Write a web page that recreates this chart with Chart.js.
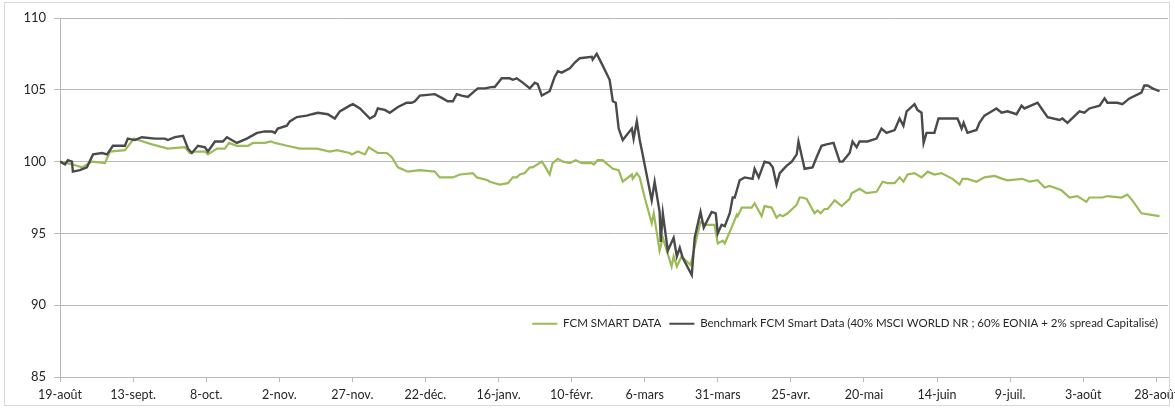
<!DOCTYPE html>
<html>
<head>
<meta charset="utf-8">
<script src="https://cdn.jsdelivr.net/npm/chart.js@4/dist/chart.umd.min.js"></script>
<style>
  html, body { margin: 0; padding: 0; background: #fff; }
  #wrap { position: relative; width: 1175px; height: 409px; }
  #frame { position: absolute; left: 4px; top: 2px; width: 1166px; height: 404px; border: 1px solid #d9d9d9; box-sizing: border-box; pointer-events: none; }
  canvas { position: absolute; left: 0; top: 0; }
</style>
</head>
<body>
<div id="wrap">
  <canvas id="c" width="1175" height="409"></canvas>
  <div id="frame"></div>
</div>
<script>
// x values: days since 19 August 2019
const tickDays = [0, 25, 50, 75, 100, 125, 150, 175, 200, 225, 250, 275, 300, 325, 350, 375];
const tickLabels = ['19-août', '13-sept.', '8-oct.', '2-nov.', '27-nov.', '22-déc.', '16-janv.', '10-févr.',
  '6-mars', '31-mars', '25-avr.', '20-mai', '14-juin', '9-juil.', '3-août', '28-août'];

const seriesNames = ['FCM SMART DATA', 'Benchmark FCM Smart Data (40% MSCI WORLD NR ; 60% EONIA + 2% spread Capitalisé)'];

const fundDays = [0, 4.4, 7.5, 10.9, 15.4, 17.1, 22.2, 25.3, 26.7, 31.5, 36.9, 42.7, 44.4, 46.2, 49.6, 50.6, 53.7, 56.4, 57.8, 60.5,
  64.3, 66.0, 70.1, 72.1, 73.5, 77.6, 82.1, 85.5, 87.9, 92.3, 94.7, 99.1, 99.8, 101.9, 104.3, 105.6, 108.7, 111.8, 113.5, 115.6,
  119.0, 123.1, 128.2, 129.9, 134.4, 136.8, 141.2, 142.6, 146.3, 147.0, 150.4, 153.2, 154.9, 156.2, 157.3, 159.0, 160.7, 161.7, 164.8, 165.8,
  167.5, 168.5, 170.3, 172.0, 174.4, 176.4, 178.5, 181.9, 182.6, 183.9, 185.6, 189.1, 191.1, 192.5, 195.6, 195.9, 197.3, 198.3, 200.0, 202.4,
  203.1, 205.1, 206.2, 209.2, 209.9, 211.0, 212.6, 215.7, 217.8, 219.1, 221.2, 223.9, 225.0, 226.7, 227.4, 229.7, 231.5, 231.8, 233.2, 236.6,
  237.6, 240.0, 241.0, 243.4, 245.1, 246.2, 247.2, 248.9, 252.0, 253.0, 254.0, 255.4, 258.1, 259.1, 260.2, 261.5, 262.6, 265.0, 267.4, 270.1,
  270.8, 273.5, 275.9, 279.3, 281.4, 283.1, 285.5, 287.2, 288.5, 289.9, 292.3, 294.7, 296.8, 299.1, 301.5, 305.3, 307.7, 308.7, 310.4, 313.5,
  316.2, 319.7, 322.4, 324.1, 329.2, 331.6, 334.4, 336.8, 338.5, 342.6, 345.3, 348.0, 351.1, 352.1, 356.6, 358.3, 363.1, 365.1, 366.8, 369.9, 376.1];
const fundValues = [100.0, 99.8, 99.6, 100.0, 99.9, 100.7, 100.8, 101.6, 101.5, 101.2, 100.9, 101.0, 100.6, 100.7, 100.7, 100.5, 100.9, 100.9, 101.3, 101.1,
  101.1, 101.3, 101.3, 101.4, 101.3, 101.1, 100.9, 100.9, 100.9, 100.7, 100.8, 100.6, 100.5, 100.7, 100.5, 101.0, 100.6, 100.6, 100.3, 99.6,
  99.3, 99.4, 99.3, 98.9, 98.9, 99.1, 99.2, 98.9, 98.7, 98.6, 98.4, 98.5, 98.9, 98.9, 99.1, 99.2, 99.6, 99.6, 100.0, 99.7,
  99.1, 99.9, 100.2, 100.0, 99.9, 100.1, 99.9, 99.9, 99.8, 100.1, 100.1, 99.5, 99.4, 98.6, 99.1, 98.8, 99.2, 98.9, 97.5, 95.7,
  96.4, 93.8, 94.7, 92.7, 93.4, 92.7, 93.4, 92.8, 94.7, 95.8, 95.6, 95.6, 94.3, 94.5, 94.3, 95.4, 96.3, 96.2, 96.8, 96.8,
  97.1, 96.2, 96.9, 96.8, 96.1, 96.3, 96.2, 96.4, 97.0, 97.5, 97.5, 97.4, 96.4, 96.6, 96.4, 96.7, 96.7, 97.3, 96.9, 97.4,
  97.8, 98.1, 97.8, 97.9, 98.6, 98.5, 98.5, 98.9, 98.6, 99.1, 99.2, 98.9, 99.3, 99.1, 99.2, 98.8, 98.4, 98.8, 98.8, 98.6,
  98.9, 99.0, 98.8, 98.7, 98.8, 98.6, 98.7, 98.2, 98.3, 98.0, 97.5, 97.6, 97.2, 97.5, 97.5, 97.6, 97.5, 97.7, 97.3, 96.4, 96.2];

const benchDays = [0, 1.7, 2.7, 4.1, 4.4, 6.8, 9.2, 11.3, 14.4, 16.1, 18.1, 22.2, 23.2, 25.6, 28.0, 32.5, 35.9, 36.9, 39.3, 42.1,
  43.8, 45.1, 47.2, 49.6, 50.6, 53.0, 55.7, 57.1, 60.5, 63.9, 67.4, 70.1, 72.5, 73.5, 74.5, 77.6, 78.6, 81.0, 84.4, 86.2,
  88.2, 91.6, 94.0, 95.7, 99.1, 100.2, 102.6, 106.0, 107.7, 108.7, 111.1, 112.8, 115.6, 118.6, 120.3, 121.4, 123.1, 128.2, 130.9, 132.6,
  134.4, 135.7, 137.4, 139.5, 141.2, 142.9, 145.3, 148.0, 148.7, 151.1, 153.8, 154.9, 156.2, 158.3, 160.7, 162.4, 163.4, 164.8, 167.5, 169.2,
  170.3, 171.6, 174.4, 176.1, 177.8, 181.9, 182.2, 183.6, 185.6, 188.0, 189.1, 190.1, 191.1, 192.5, 195.6, 196.2, 197.3, 198.3, 199.0, 202.4,
  203.4, 205.1, 205.5, 206.2, 207.9, 209.9, 211.0, 212.0, 213.0, 216.1, 217.1, 219.1, 220.2, 222.9, 224.3, 225.0, 226.3, 227.4, 229.1, 230.1,
  230.8, 232.5, 234.2, 236.9, 237.6, 239.0, 241.0, 242.7, 243.8, 245.1, 246.2, 248.5, 250.3, 252.0, 252.6, 254.7, 257.4, 258.8, 260.5, 262.2,
  264.6, 266.7, 267.7, 270.1, 271.1, 272.5, 273.5, 276.2, 279.3, 281.0, 282.7, 285.5, 287.2, 288.5, 289.6, 292.3, 293.3, 294.7, 295.4, 296.4,
  299.1, 300.5, 307.0, 308.4, 309.1, 310.4, 313.5, 314.5, 316.2, 317.9, 320.3, 322.1, 324.1, 327.2, 328.9, 329.9, 334.4, 337.8, 341.9, 342.9,
  344.6, 348.7, 350.4, 352.1, 355.6, 357.3, 358.3, 361.7, 363.4, 365.8, 369.9, 370.9, 372.0, 373.7, 376.1];
const benchValues = [100.0, 99.8, 100.1, 100.0, 99.3, 99.4, 99.6, 100.5, 100.6, 100.5, 101.1, 101.1, 101.6, 101.5, 101.7, 101.6, 101.6, 101.5, 101.7, 101.8,
  100.9, 100.6, 101.1, 101.0, 100.7, 101.4, 101.4, 101.7, 101.3, 101.6, 102.0, 102.1, 102.1, 102.0, 102.3, 102.5, 102.8, 103.1, 103.2, 103.3,
  103.4, 103.3, 103.0, 103.5, 103.9, 104.0, 103.7, 103.0, 103.2, 103.7, 103.6, 103.4, 103.8, 104.1, 104.1, 104.2, 104.6, 104.7, 104.4, 104.2,
  104.2, 104.7, 104.6, 104.5, 104.8, 105.1, 105.1, 105.2, 105.2, 105.8, 105.8, 105.7, 105.8, 105.5, 105.1, 105.5, 105.4, 104.6, 104.9, 105.9,
  106.3, 106.2, 106.5, 106.9, 107.2, 107.3, 107.1, 107.5, 106.7, 105.7, 104.2, 104.1, 102.3, 101.5, 102.3, 101.6, 102.8, 101.5, 100.8, 97.3,
  98.6, 96.5, 94.4, 96.4, 93.8, 94.7, 93.4, 94.0, 93.3, 92.1, 94.7, 96.5, 95.4, 96.5, 96.4, 95.0, 95.6, 95.5, 96.4, 97.5,
  97.5, 98.7, 98.9, 98.8, 99.5, 98.9, 100.0, 99.9, 99.6, 98.4, 99.2, 99.7, 100.0, 100.5, 101.4, 99.5, 99.6, 100.3, 101.1, 101.2,
  101.3, 100.0, 100.0, 100.6, 101.4, 101.0, 101.4, 101.4, 101.6, 102.3, 102.0, 102.2, 103.0, 102.5, 103.5, 104.0, 103.6, 103.4, 101.3, 102.0,
  102.0, 103.0, 103.0, 102.3, 102.7, 102.0, 102.2, 102.7, 103.2, 103.4, 103.7, 103.4, 103.5, 103.3, 103.9, 103.7, 104.1, 103.1, 102.9, 103.0,
  102.7, 103.5, 103.4, 103.7, 103.9, 104.4, 104.1, 104.1, 104.0, 104.4, 104.8, 105.3, 105.3, 105.1, 104.9];

const toPoints = (xs, ys) => xs.map((x, i) => ({ x: x, y: ys[i] }));

const FONT = 'Lato, "Open Sans", sans-serif';
const GRID = '#b8b8b8';

const legendMover = {
  id: 'legendMover',
  afterInit(chart) {
    const lg = chart.legend;
    const orig = lg.fit.bind(lg);
    lg.fit = function () { orig(); this._realH = this.height; this.height = 0; };
  },
  afterLayout(chart) {
    const lg = chart.legend;
    const h = lg._realH || 30;
    lg.left = 200; lg.right = 1166;
    lg.top = 310; lg.bottom = lg.top + h;
    lg.width = lg.right - lg.left; lg.height = h;
  }
};

new Chart(document.getElementById('c'), {
  type: 'line',
  data: {
    datasets: [
      { label: seriesNames[0], data: toPoints(fundDays, fundValues), borderColor: '#9bbb59', backgroundColor: '#9bbb59',
        borderWidth: 2.2, pointRadius: 0, tension: 0, fill: false, order: 1 },
      { label: seriesNames[1], data: toPoints(benchDays, benchValues), borderColor: '#4a4a4a', backgroundColor: '#4a4a4a',
        borderWidth: 2.4, pointRadius: 0, tension: 0, fill: false, order: 0 }
    ]
  },
  options: {
    responsive: false,
    animation: false,
    events: [],
    layout: { padding: { left: 0, right: 7, top: 18, bottom: 0 } },
    scales: {
      x: {
        type: 'linear', min: 0, max: 379,
        afterBuildTicks: (s) => { s.ticks = tickDays.map(v => ({ value: v })); },
        afterFit: (s) => { s.height = 32; s.paddingLeft = 0; s.paddingRight = 0; },
        ticks: {
          autoSkip: false, maxRotation: 0, minRotation: 0, padding: 5,
          color: '#262626', font: { family: FONT, size: 12.5 },
          callback: (v) => { const i = tickDays.indexOf(v); return i >= 0 ? tickLabels[i] : ''; }
        },
        grid: { drawOnChartArea: false, drawTicks: true, tickLength: 5, color: GRID, lineWidth: 1 },
        border: { display: true, color: GRID, width: 1 }
      },
      y: {
        min: 85, max: 110,
        afterFit: (s) => { s.width = 60; },
        ticks: { stepSize: 5, padding: 8, color: '#262626', font: { family: FONT, size: 13 } },
        grid: { color: GRID, lineWidth: 1, drawTicks: true, tickLength: 6 },
        border: { display: true, color: GRID, width: 1 }
      }
    },
    plugins: {
      tooltip: { enabled: false },
      legend: {
        display: true, position: 'top', align: 'end',
        labels: {
          boxWidth: 25, boxHeight: 2, padding: 8,
          color: '#262626', font: { family: FONT, size: 11.5 },
          sort: (a, b) => a.datasetIndex - b.datasetIndex,
          generateLabels: (chart) => {
            const items = Chart.defaults.plugins.legend.labels.generateLabels(chart);
            items.forEach(it => { it.lineWidth = 0; it.fillStyle = it.strokeStyle; });
            return items;
          }
        }
      }
    }
  },
  plugins: [legendMover]
});
</script>
</body>
</html>
